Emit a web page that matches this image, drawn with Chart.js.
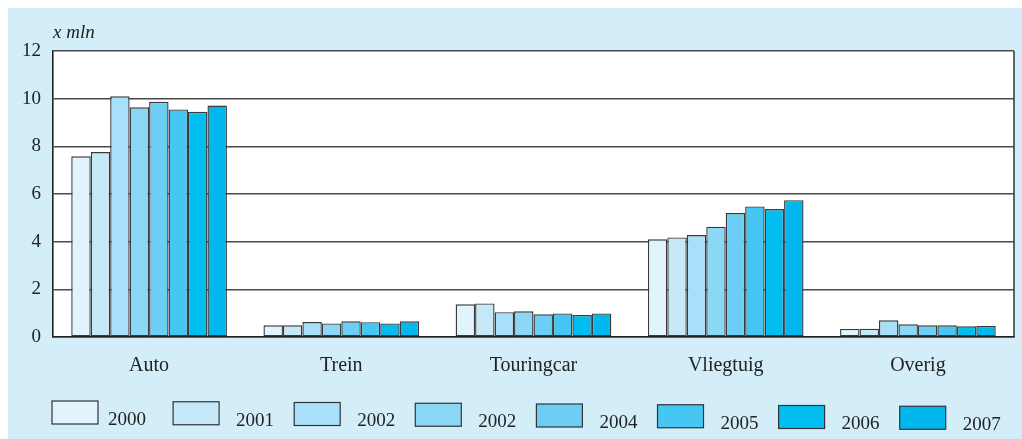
<!DOCTYPE html>
<html>
<head>
<meta charset="utf-8">
<script src="https://cdn.jsdelivr.net/npm/chart.js@4"></script>
<style>
  html, body { margin: 0; padding: 0; background: #fff; }
  #wrap { width: 1022px; height: 439px; position: relative; }
</style>
</head>
<body>
<div id="wrap"><canvas id="chart" width="1022" height="439"></canvas></div>
<script>
// Data
const categories = ['Auto', 'Trein', 'Touringcar', 'Vliegtuig', 'Overig'];
const years = ['2000', '2001', '2002', '2002', '2004', '2005', '2006', '2007'];
const v2000 = [7.58, 0.49, 1.37, 4.10, 0.34];
const v2001 = [7.76, 0.49, 1.41, 4.18, 0.35];
const v2002 = [10.10, 0.63, 1.04, 4.28, 0.70];
const v2003 = [9.64, 0.57, 1.08, 4.63, 0.53];
const v2004 = [9.87, 0.66, 0.95, 5.20, 0.49];
const v2005 = [9.55, 0.62, 0.99, 5.48, 0.49];
const v2006 = [9.45, 0.57, 0.92, 5.37, 0.45];
const v2007 = [9.71, 0.66, 0.99, 5.74, 0.46];
const yTicks = [0, 2, 4, 6, 8, 10, 12];

const series = [v2000, v2001, v2002, v2003, v2004, v2005, v2006, v2007];
const colors = ['#e1f3fc', '#c6e9f9', '#a9e0f9', '#8dd7f6', '#6ccef4', '#46c6f2', '#00bff0', '#00b8ed'];
const serif = '"Liberation Serif", "DejaVu Serif", serif';

// background, white plot area, frame, unit label and legend
const decor = {
    id: 'decor',
    beforeDraw(chart) {
        const c = chart.ctx, a = chart.chartArea;
        c.save();
        c.fillStyle = '#ffffff';
        c.fillRect(0, 0, chart.width, chart.height);
        c.fillStyle = '#d3eef9';
        c.fillRect(8, 8, chart.width - 8, chart.height - 8);
        c.fillStyle = '#ffffff';
        c.fillRect(a.left, a.top, a.right - a.left, a.bottom - a.top);
        c.restore();
    },
    afterDraw(chart) {
        const c = chart.ctx, a = chart.chartArea;
        c.save();
        // right frame line
        c.strokeStyle = '#333';
        c.lineWidth = 1.5;
        c.beginPath();
        c.moveTo(a.right, a.top);
        c.lineTo(a.right, a.bottom);
        c.stroke();

        c.fillStyle = '#222';
        c.font = 'italic 19px ' + serif;
        c.textBaseline = 'middle';
        c.fillText('x mln', 53, 33);

        // legend, slightly tilted like the original
        c.font = '19px ' + serif;
        chart.data.datasets.forEach((ds, i) => {
            const bx = 52 + i * 121.1;
            const by = 401 + i * 0.75;
            c.fillStyle = ds.backgroundColor;
            c.fillRect(bx, by, 46, 23);
            c.strokeStyle = '#333';
            c.lineWidth = 1.2;
            c.strokeRect(bx, by, 46, 23);
            c.fillStyle = '#222';
            c.fillText(ds.label, bx + 46 + (i === 0 ? 10 : 17), by + 19);
        });
        c.restore();
    }
};

new Chart(document.getElementById('chart'), {
    type: 'bar',
    data: {
        labels: categories,
        datasets: series.map((vals, i) => ({
            label: years[i],
            data: vals,
            backgroundColor: colors[i],
            borderColor: '#3a3a3a',
            borderWidth: 1.4,
            borderSkipped: false,
            categoryPercentage: 0.81,
            barPercentage: 1.0
        }))
    },
    options: {
        responsive: false,
        animation: false,
        layout: { padding: { top: 51, right: 8, left: 0, bottom: 0 } },
        plugins: { legend: { display: false }, tooltip: { enabled: false } },
        scales: {
            x: {
                grid: { display: false },
                border: { display: true, color: '#222', width: 1.6 },
                ticks: { color: '#222', font: { family: serif, size: 20 }, padding: 9 },
                afterFit(scale) { scale.height = 102; }
            },
            y: {
                min: 0,
                max: 12,
                afterBuildTicks(scale) { scale.ticks = yTicks.map(v => ({ value: v })); },
                grid: { color: '#4a4a4a', lineWidth: 1.4, drawTicks: false },
                border: { display: true, color: '#222', width: 1.6 },
                ticks: { color: '#222', font: { family: serif, size: 19 }, padding: 12 },
                afterFit(scale) { scale.width = 53; }
            }
        }
    },
    plugins: [decor]
});
</script>
</body>
</html>
